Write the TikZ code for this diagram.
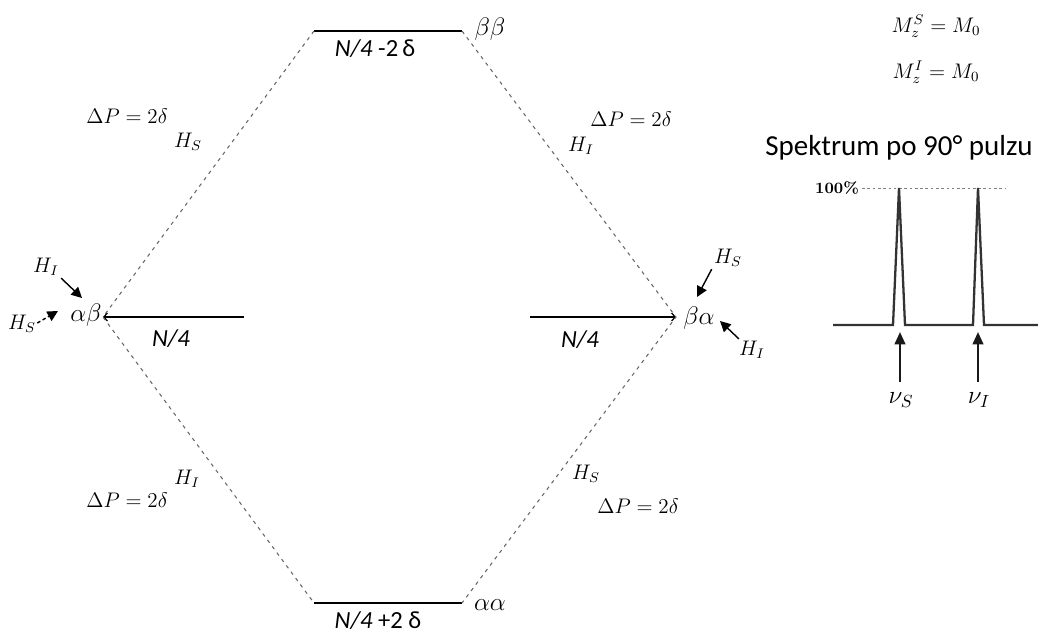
\documentclass[tikz,border=0pt]{standalone}
\usepackage{fontspec}
\newfontfamily\carl{Carlito}
\usetikzlibrary{arrows.meta}
\begin{document}
\begin{tikzpicture}[x=0.02cm,y=-0.02cm,
  level/.style={line width=1.7pt},
  conn/.style={gray!80!black,line width=0.6pt,dash pattern=on 2pt off 2.5pt},
  lbl/.style={font=\fontsize{12}{14}\selectfont,inner sep=0pt},
  st/.style={font=\fontsize{15}{17}\selectfont,inner sep=0pt},
  en/.style={font=\carl\fontsize{14}{16}\selectfont,inner sep=0pt},
  harrow/.style={line width=0.8pt,-{Triangle[length=6pt,width=6pt]}},
  spec/.style={line width=1.3pt,gray!40!black},
  up/.style={line width=1.3pt,gray!20!black,-{Triangle[length=7pt,width=6pt]}}]
\useasboundingbox (0,0) rectangle (1038,635);
% levels
\coordinate (tl) at (314,31); \coordinate (tr) at (462,31);
\coordinate (bl) at (314,603); \coordinate (br) at (462,603);
\coordinate (ml) at (103,317); \coordinate (mle) at (244,317);
\coordinate (mr) at (676,317); \coordinate (mrs) at (530,317);
\draw[level] (tl) -- (tr);
\draw[level] (bl) -- (br);
\draw[level,-{Straight Barb[length=2pt,width=4.5pt,line width=0.7pt]}] (mle) -- (ml);
\draw[level,-{Straight Barb[length=2pt,width=4.5pt,line width=0.7pt]}] (mrs) -- (mr);
\draw[conn] (tl) -- (ml) -- (bl);
\draw[conn] (tr) -- (mr) -- (br);
% energy labels
\node[en] (etop) at (375,49) {\itshape N/4\upshape\ -2\,δ};
\node[en] (ebot) at (378,621) {\itshape N/4\upshape\ +2 δ};
\node[en,font=\carl\itshape\fontsize{14}{16}\selectfont] (eleft) at (171,339) {N/4};
\node[en,font=\carl\itshape\fontsize{14}{16}\selectfont] (eright) at (580,340) {N/4};
% state labels
\node[st] (sbb) at (490,29) {$\beta\beta$};
\node[st] (saa) at (490,605) {$\alpha\alpha$};
\node[st] (sab) at (86,315) {$\alpha\beta$};
\node[st] (sba) at (699,318) {$\beta\alpha$};
% transition labels
\node[lbl] (dp1) at (127,116) {$\Delta P = 2\delta$};
\node[lbl] (hs1) at (188,142) {$H_S$};
\node[lbl] (dp2) at (631,119) {$\Delta P = 2\delta$};
\node[lbl] (hi2) at (581,146) {$H_I$};
\node[lbl] (hi3) at (187,479) {$H_I$};
\node[lbl] (dp3) at (127,500) {$\Delta P = 2\delta$};
\node[lbl] (hs4) at (586,474) {$H_S$};
\node[lbl] (dp4) at (638,506) {$\Delta P = 2\delta$};
% side arrows
\node[lbl] (hia) at (46,267) {$H_I$};
\node[lbl] (hsa) at (22,324) {$H_S$};
\node[lbl] (hsb) at (728,258) {$H_S$};
\node[lbl] (hib) at (752,350) {$H_I$};
\coordinate (a1) at (82,298); \coordinate (a2) at (58,311);
\coordinate (a3) at (697,297); \coordinate (a4) at (720,321);
\draw[harrow] (hia.south east) ++(2,2) -- (a1);
\draw[harrow,dash pattern=on 2pt off 1.5pt] (hsa.east) ++(1,-1) -- (a2);
\draw[harrow] (hsb.south west) ++(-2,2) -- (a3);
\draw[harrow] (hib.north west) ++(0,-2) -- (a4);
% right panel
\node[lbl] (ms) at (936,26) {$M_z^S = M_0$};
\node[lbl] (mi) at (936,72) {$M_z^I = M_0$};
\node[font=\carl\fontsize{16.5}{19}\selectfont,inner sep=0pt] (title) at (899,148) {Spektrum po 90° pulzu};
\node[font=\bfseries\fontsize{9}{10}\selectfont,inner sep=0pt] (pct) at (837,188) {100\%};
\coordinate (p1) at (899,188); \coordinate (p2) at (978,188);
\coordinate (de) at (1005,188);
\draw[gray,line width=0.5pt,dash pattern=on 1.5pt off 1.5pt] (pct.east) ++(3,0) -- (de);
\draw[spec,line join=miter] (833,325) -- (893,325) -- (p1) -- (905,325) -- (973,325) -- (p2) -- (984,325) -- (1038,325);
\node[lbl,font=\fontsize{14}{16}\selectfont] (nus) at (901,400) {$\nu_S$};
\node[lbl,font=\fontsize{14}{16}\selectfont] (nui) at (979,400) {$\nu_I$};
\coordinate (u1) at (900,332); \coordinate (u2) at (978,332);
\draw[up] (900,382) -- (u1);
\draw[up] (978,382) -- (u2);
\end{tikzpicture}
\end{document}
